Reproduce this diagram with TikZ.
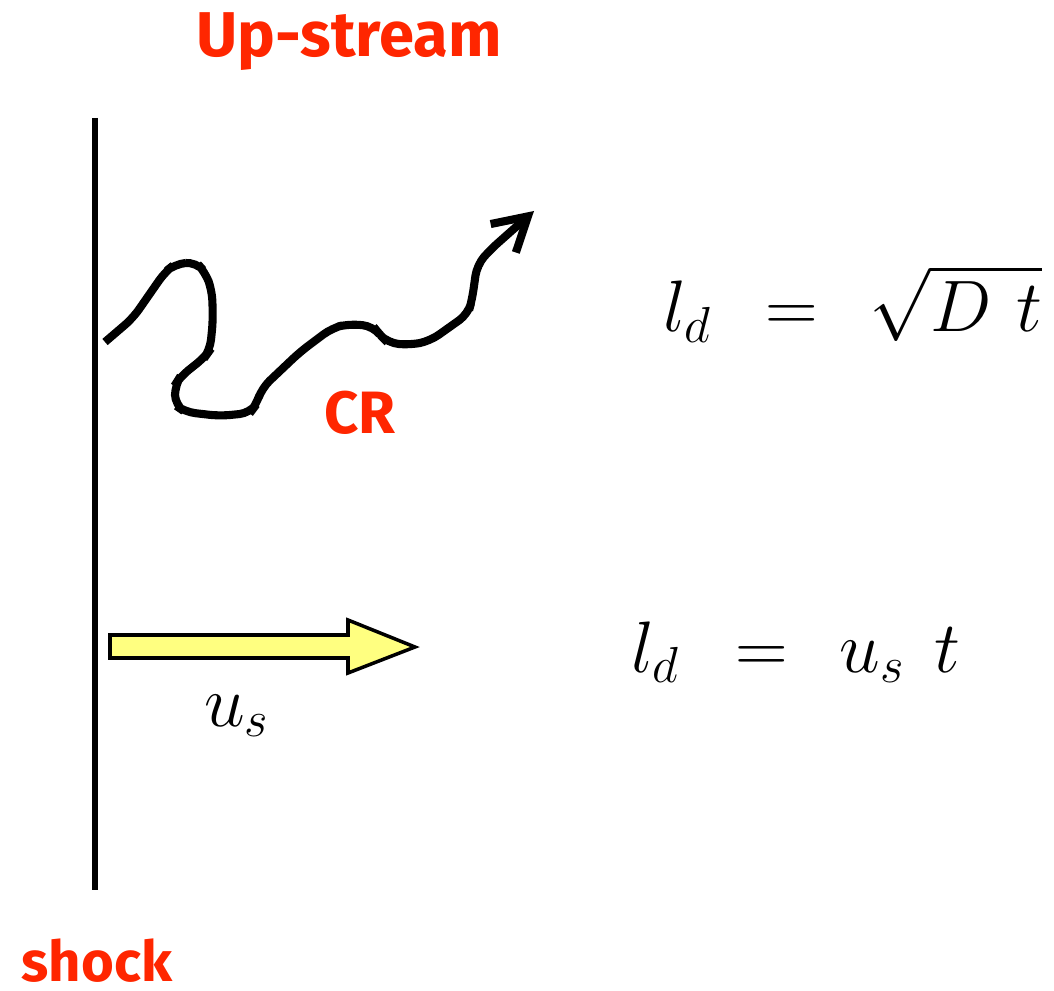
\documentclass[tikz,border=0pt]{standalone}
\usepackage{fontspec}
\usepackage{xcolor}
\usepackage{tikz}
\usetikzlibrary{arrows.meta, positioning}
\newfontfamily\rotulo{Fira Sans}
\definecolor{rojo}{RGB}{255,38,0}
\definecolor{amarillo}{RGB}{255,255,128}

\begin{document}
\begin{tikzpicture}[
        x=0.01cm, y=-0.01cm,
        rotulo/.style={font=\rotulo\bfseries\fontsize{18}{20}\selectfont, text=rojo, inner sep=0pt, anchor=base},
        ecuacion/.style={font=\fontsize{20.5}{24}\selectfont, inner sep=0pt, anchor=base west},
        frente/.style={line width=1.6pt},
        particula/.style={line width=2.3pt, rounded corners=3pt, -{Straight Barb[length=3.3mm, width=3.8mm]}},
        flujo/.style={draw, line width=1pt, fill=amarillo}
    ]
        \useasboundingbox (0,0) rectangle (1054,991);

        % shock front
        \coordinate (top) at (95,118);
        \coordinate (bottom) at (95,890);
        \draw[frente] (top) -- (bottom);
        \node[rotulo, font=\rotulo\bfseries\fontsize{16}{18}\selectfont] (shock) at (97,981) {shock};
        \node[rotulo] (upstream) at (349,57) {Up-stream};

        % diffusive path of the particle
        \coordinate (crstart) at (105,342);
        \coordinate (crend) at (534,211);
        \draw[particula] (crstart) -- (133,318) -- (165,272) -- (175,264) -- (196,262) -- (205,272)
            -- (212,290) -- (213,320) -- (210,350) -- (205,357) -- (180,377) -- (175,385)
            -- (175,405) -- (185,412) -- (220,416) -- (250,413) -- (256,405) -- (262,388)
            -- (300,352) -- (332,328) -- (348,324) -- (373,326) -- (380,335) -- (388,343)
            -- (410,345) -- (430,341) -- (468,314) -- (472,300) -- (477,265) -- (490,250)
            -- (crend);
        \node[rotulo, font=\rotulo\bfseries\fontsize{17}{19}\selectfont] (cr) at (360,433) {CR};

        % advection with the flow
        \draw[flujo] (110,635) -- (348,635) -- (348,620) -- (415,647) -- (348,673)
            -- (348,658) -- (110,658) -- cycle;
        \node[ecuacion, anchor=base] (us) at (237,726) {$u_s$};

        \node[ecuacion] (diff) at (663,332) {$l_d \hspace{0.45em} = \hspace{0.44em} \sqrt{D \hspace{0.34em} t}$};
        \node[ecuacion] (adv) at (631,672) {$l_d \hspace{0.48em} = \hspace{0.44em} u_s \hspace{0.40em} t$};
\end{tikzpicture}
\end{document}
